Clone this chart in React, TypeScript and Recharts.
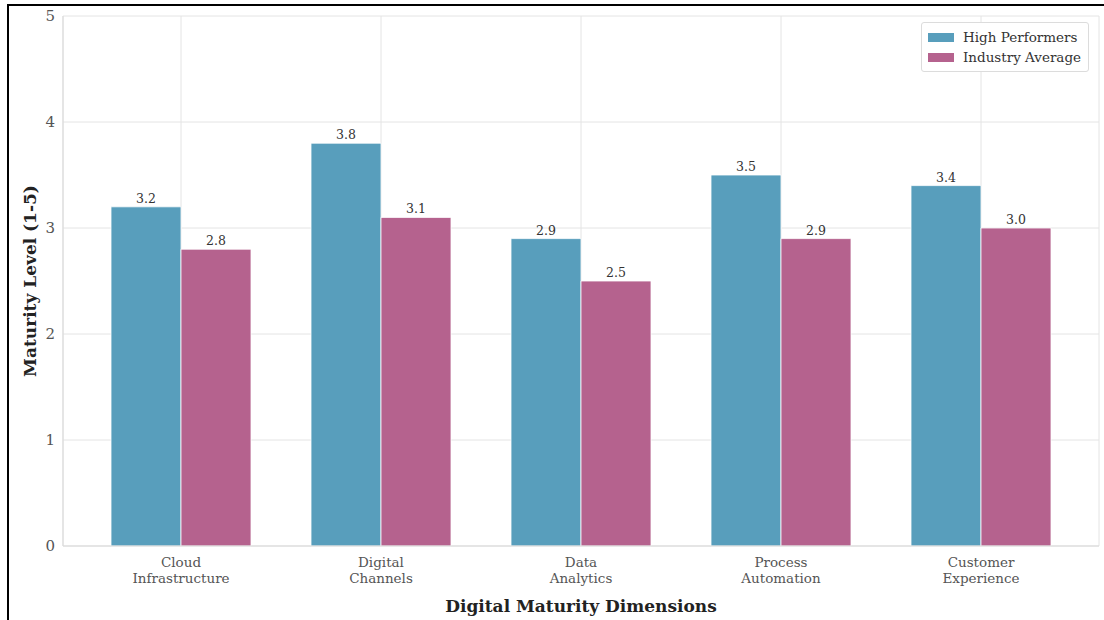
import {
  BarChart,
  Bar,
  XAxis,
  YAxis,
  CartesianGrid,
  Legend,
  LabelList,
  Label,
} from "recharts";

const categories = [
  ["Cloud", "Infrastructure"],
  ["Digital", "Channels"],
  ["Data", "Analytics"],
  ["Process", "Automation"],
  ["Customer", "Experience"],
];
const highPerformers = [3.2, 3.8, 2.9, 3.5, 3.4];
const industryAverage = [2.8, 3.1, 2.5, 2.9, 3.0];
const yTicks = [0, 1, 2, 3, 4, 5];

const SERIF = "'DejaVu Serif', serif";
const BLUE = "#589EBC";
const PINK = "#B5628E";

const data = categories.map((c, i) => ({
  name: c.join(" "),
  high: highPerformers[i],
  industry: industryAverage[i],
}));

// two-line category labels
function CategoryTick(props: any) {
  const { x, y, index } = props;
  const lines = categories[index] || [];
  return (
    <text
      x={x}
      y={y}
      textAnchor="middle"
      fontFamily={SERIF}
      fontSize={13.5}
      fill="#555"
    >
      {lines.map((l: string, i: number) => (
        <tspan key={i} x={x} dy={i === 0 ? 13 : 15.5}>
          {l}
        </tspan>
      ))}
    </text>
  );
}

function LegendBox() {
  const items = [
    { label: "High Performers", color: BLUE },
    { label: "Industry Average", color: PINK },
  ];
  return (
    <div
      style={{
        border: "1px solid #dcdcdc",
        borderRadius: "3px",
        background: "#fff",
        padding: "4px 6px",
        fontFamily: SERIF,
        fontSize: "13.5px",
        color: "#333",
        whiteSpace: "nowrap",
      }}
    >
      {items.map((it) => (
        <div
          key={it.label}
          style={{ display: "flex", alignItems: "center", height: "20px" }}
        >
          <span
            style={{
              display: "inline-block",
              width: "26px",
              height: "9px",
              background: it.color,
              marginRight: "9px",
            }}
          />
          {it.label}
        </div>
      ))}
    </div>
  );
}

export default function App() {
  return (
    <div
      style={{
        position: "absolute",
        left: 0,
        top: 0,
        width: "1104px",
        height: "620px",
        background: "#fff",
      }}
    >
      <div
        style={{
          position: "absolute",
          left: "7px",
          top: "4px",
          width: "1100px",
          height: "620px",
          borderTop: "2px solid #000",
          borderLeft: "2px solid #000",
        }}
      />
      <div style={{ position: "absolute", left: 0, top: 0 }}>
        <BarChart
          width={1104}
          height={620}
          data={data}
          margin={{ top: 16, right: 5, bottom: 0, left: 0 }}
          barCategoryGap={30}
          barGap={0}
        >
          <CartesianGrid stroke="#e4e4e4" strokeWidth={1} />
          <XAxis
            dataKey="name"
            height={74}
            padding={{ left: 18, right: 18 }}
            tickLine={false}
            axisLine={{ stroke: "#d9d9d9" }}
            tick={<CategoryTick />}
            interval={0}
          >
            <Label
              value="Digital Maturity Dimensions"
              position="insideBottom"
              offset={8}
              style={{
                fontFamily: SERIF,
                fontSize: "17px",
                fontWeight: 700,
                fill: "#222",
              }}
            />
          </XAxis>
          <YAxis
            width={63}
            domain={[0, 5]}
            ticks={yTicks}
            tickLine={false}
            axisLine={{ stroke: "#d9d9d9" }}
            tick={{ fontFamily: SERIF, fontSize: 15, fill: "#555" }}
          >
            <Label
              value="Maturity Level (1-5)"
              angle={-90}
              position="insideLeft"
              offset={30}
              textAnchor="middle"
              style={{
                fontFamily: SERIF,
                fontSize: "17px",
                fontWeight: 700,
                fill: "#222",
                textAnchor: "middle",
              }}
            />
          </YAxis>
          <YAxis
            yAxisId="frame"
            orientation="right"
            width={0}
            domain={[0, 5]}
            tick={false}
            tickLine={false}
            axisLine={{ stroke: "#d9d9d9" }}
          />
          <Legend
            layout="vertical"
            align="center"
            verticalAlign="middle"
            content={<LegendBox />}
            wrapperStyle={{ left: 921, top: 22, width: 168 }}
          />
          <Bar
            dataKey="high"
            name="High Performers"
            fill={BLUE}
            stroke="#fff"
            strokeWidth={0.8}
            barSize={70}
            isAnimationActive={false}
          >
            <LabelList
              dataKey="high"
              position="top"
              offset={4}
              formatter={(v: any) => Number(v).toFixed(1)}
              style={{ fontFamily: SERIF, fontSize: "12.5px", fill: "#333" }}
            />
          </Bar>
          <Bar
            dataKey="industry"
            name="Industry Average"
            fill={PINK}
            stroke="#fff"
            strokeWidth={0.8}
            barSize={70}
            isAnimationActive={false}
          >
            <LabelList
              dataKey="industry"
              position="top"
              offset={4}
              formatter={(v: any) => Number(v).toFixed(1)}
              style={{ fontFamily: SERIF, fontSize: "12.5px", fill: "#333" }}
            />
          </Bar>
        </BarChart>
      </div>
    </div>
  );
}
